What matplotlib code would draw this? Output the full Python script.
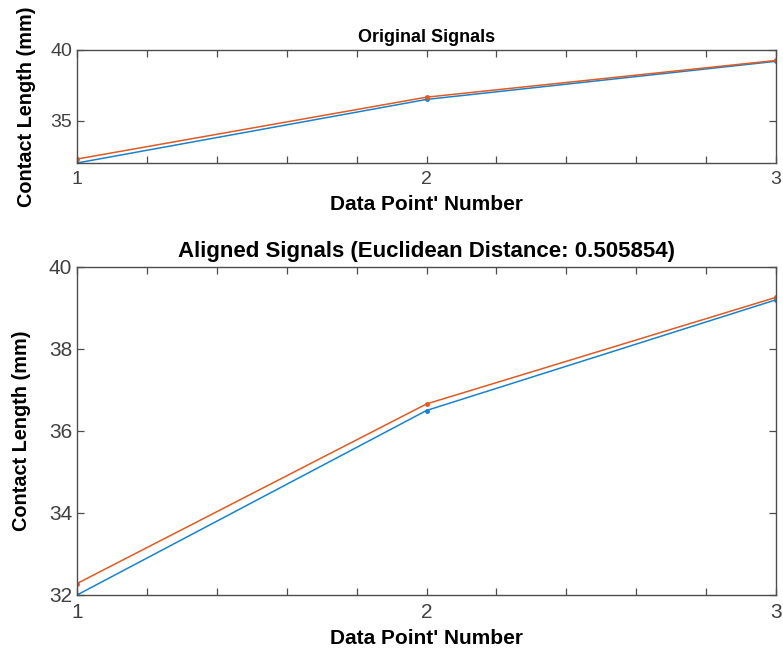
import numpy as np
import matplotlib
matplotlib.use("Agg")
import matplotlib.pyplot as plt
from matplotlib.ticker import MultipleLocator, FuncFormatter

plt.rcParams['font.family'] = ['Liberation Sans', 'DejaVu Sans']

# data points
points = [1, 2, 3]
signal_a = [32.0, 36.5, 39.2]    # blue
signal_b = [32.28, 36.66, 39.26]  # orange
aligned_a = [32.0, 36.5, 39.2]
aligned_b = [32.28, 36.66, 39.26]

title_top = "Original Signals"
title_bottom = "Aligned Signals (Euclidean Distance: 0.505854)"
xlab = "Data Point' Number"
ylab = "Contact Length (mm)"

blue = "#1a82cc"
orange = "#e05a22"
axcol = "#4d4d4d"

fig = plt.figure(figsize=(7.83, 6.57), dpi=100)
ax1 = fig.add_axes([77/783, 1-163/657, 699/783, 113/657])
ax2 = fig.add_axes([77/783, 1-595/657, 699/783, 328/657])


def int_only(v, pos):
    if abs(v - round(v)) < 1e-6:
        return str(int(round(v)))
    return ""


def style(ax):
    for s in ax.spines.values():
        s.set_color(axcol)
        s.set_linewidth(1.0)
    ax.tick_params(direction='in', top=True, right=True, length=5, width=0.9,
                   colors=axcol, labelcolor="#404040")
    ax.tick_params(axis='x', pad=6)
    ax.xaxis.set_major_locator(MultipleLocator(0.2))
    ax.xaxis.set_major_formatter(FuncFormatter(int_only))
    ax.set_xlim(1, 3)


ax1.plot(points, signal_a, '.-', color=blue, lw=1.1, ms=5)
ax1.plot(points, signal_b, '.-', color=orange, lw=1.1, ms=5)
style(ax1)
ax1.tick_params(labelsize=14)
ax1.set_ylim(32, 40)
ax1.set_yticks([35, 40])
ax1.set_title(title_top, fontsize=13, fontweight='bold', pad=6)
ax1.set_xlabel(xlab, fontsize=15, fontweight='bold', labelpad=5)
ax1.set_ylabel(ylab, fontsize=14.3, fontweight='bold')
ax1.yaxis.set_label_coords(-0.058, 0.5)

ax2.plot(points, aligned_a, '.-', color=blue, lw=1.1, ms=5)
ax2.plot(points, aligned_b, '.-', color=orange, lw=1.1, ms=5)
style(ax2)
ax2.tick_params(labelsize=15)
ax2.set_ylim(32, 40)
ax2.set_yticks([32, 34, 36, 38, 40])
ax2.set_title(title_bottom, fontsize=16, fontweight='bold', pad=7)
ax2.set_xlabel(xlab, fontsize=15, fontweight='bold', labelpad=5)
ax2.set_ylabel(ylab, fontsize=14.3, fontweight='bold')
ax2.yaxis.set_label_coords(-0.066, 0.5)

fig.savefig("out.png", dpi=100)
